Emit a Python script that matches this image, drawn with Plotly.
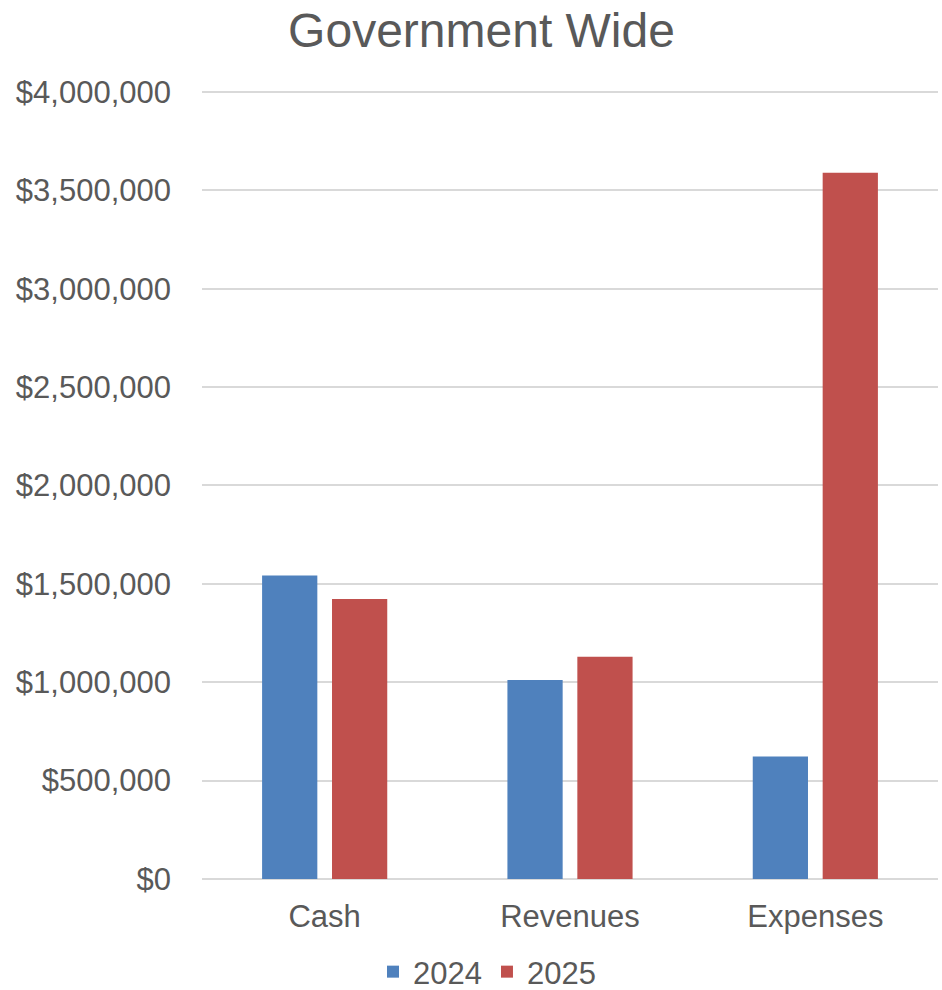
import plotly.graph_objects as go

# Categories and yearly totals (dollars)
categories = ["Cash", "Revenues", "Expenses"]
values_2024 = [1542000, 1012000, 622000]
values_2025 = [1423000, 1129000, 3589000]
tick_values = [0, 500000, 1000000, 1500000, 2000000, 2500000, 3000000, 3500000, 4000000]
tick_labels = ["$0", "$500,000", "$1,000,000", "$1,500,000", "$2,000,000",
               "$2,500,000", "$3,000,000", "$3,500,000", "$4,000,000"]

FONT = "Liberation Sans, Arial, sans-serif"
TEXT = "#595959"

fig = go.Figure()
fig.add_trace(go.Bar(name="2024", x=categories, y=values_2024,
                     marker=dict(color="#4F81BD", line=dict(width=0))))
fig.add_trace(go.Bar(name="2025", x=categories, y=values_2025,
                     marker=dict(color="#C0504D", line=dict(width=0))))

fig.update_layout(
    width=942, height=990,
    margin=dict(l=202, r=4, t=90, b=111),
    paper_bgcolor="white", plot_bgcolor="white",
    barmode="group", bargap=0.43, bargroupgap=0.21,
    font=dict(family=FONT, color=TEXT, size=31),
    title=dict(text="Government Wide", x=481.5 / 942, xanchor="center",
               xref="container", y=1 - 30 / 990, yanchor="middle",
               font=dict(size=48, color=TEXT, family=FONT)),
    xaxis=dict(showgrid=False, showline=False, ticks="",
               tickfont=dict(size=31, color=TEXT), ticklabelstandoff=16),
    # the upper bound sits just above $4,000,000 so its gridline is drawn
    yaxis=dict(range=[0, 4010000], tickvals=tick_values, ticktext=tick_labels,
               showgrid=True, gridcolor="#D9D9D9", gridwidth=1.5,
               zeroline=True, zerolinecolor="#D9D9D9", zerolinewidth=1.5,
               showline=False, ticks="", ticklabelstandoff=30,
               tickfont=dict(size=31, color=TEXT)),
    legend=dict(orientation="h", x=487 / 942, xanchor="center", xref="container",
                y=18 / 990, yanchor="middle", yref="container",
                font=dict(size=31, color=TEXT), itemwidth=30,
                traceorder="normal"),
)

fig.write_html("out.html")
